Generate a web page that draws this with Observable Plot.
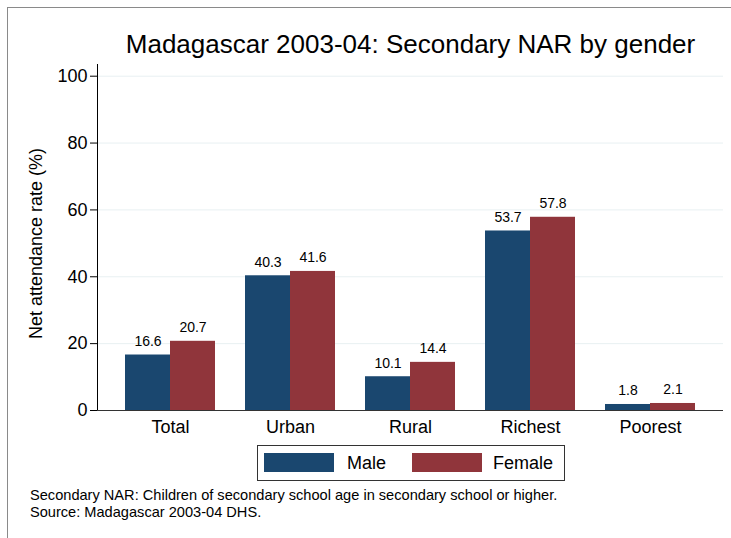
<!DOCTYPE html>
<html>
<head>
<meta charset="utf-8">
<script src="https://cdn.jsdelivr.net/npm/d3@7"></script>
<script src="https://cdn.jsdelivr.net/npm/@observablehq/plot@0.6"></script>
<style>
  html, body { margin: 0; padding: 0; background: #fff; }
  #wrap { position: relative; width: 731px; height: 538px; overflow: hidden; font-family: "Liberation Sans", Arial, sans-serif; }
  #wrap > * { position: absolute; }
  .frame { left: 7px; top: 7px; width: 800px; height: 600px; border-left: 1px solid #8a8a8a; border-top: 1px solid #8a8a8a; }
  .plot { left: 0; top: 0; }
  .legend-box { left: 257px; top: 445px; width: 306px; height: 34px; border: 1px solid #333; }
  .sw { width: 70px; height: 19px; top: 453px; }
  .lt { font-size: 18px; line-height: 18px; top: 454px; color: #000; white-space: nowrap; }
  .cap { left: 30px; top: 487px; font-size: 14.6px; line-height: 16.8px; color: #000; white-space: nowrap; }
</style>
</head>
<body>
<div id="wrap"><div class="frame"></div></div>
<script>
const title = "Madagascar 2003-04: Secondary NAR by gender";
const yLabel = "Net attendance rate (%)";
const categories = ["Total", "Urban", "Rural", "Richest", "Poorest"];
const genders = ["Male", "Female"];
const maleValues = [16.6, 40.3, 10.1, 53.7, 1.8];
const femaleValues = [20.7, 41.6, 14.4, 57.8, 2.1];
const yTicks = [0, 20, 40, 60, 80, 100];
const colors = ["#1a476f", "#90353b"];
const captionLines = [
  "Secondary NAR: Children of secondary school age in secondary school or higher.",
  "Source: Madagascar 2003-04 DHS."
];

const data = categories.flatMap((c, i) => [
  {category: c, gender: genders[0], value: maleValues[i]},
  {category: c, gender: genders[1], value: femaleValues[i]}
]);

const font = "'Liberation Sans', Arial, sans-serif";
const dims = {width: 731, height: 538, marginTop: 64, marginBottom: 128, marginLeft: 97, marginRight: 8};
const fxPad = {paddingInner: 0.25, paddingOuter: 0.233};
const yDomain = [0, 103.5];

const back = Plot.plot({
  ...dims,
  style: {fontFamily: font, background: "transparent", color: "#000"},
  x: {domain: categories, axis: null},
  y: {domain: yDomain, axis: null},
  marks: [
    Plot.ruleY(yTicks.filter(t => t > 0), {stroke: "#e8f0f2", strokeWidth: 1}),
    Plot.axisY(yTicks, {tickSize: 7, tickPadding: 3, fontSize: 18, label: null, stroke: "#000"}),
    Plot.frame({anchor: "left", stroke: "#000"}),
    Plot.text([title], {text: d => d, frameAnchor: "top", lineAnchor: "bottom", dy: -12, fontSize: 26, fill: "#000"}),
    Plot.text([yLabel], {text: d => d, frameAnchor: "left", rotate: -90, textAnchor: "middle", lineAnchor: "middle", dx: -61, dy: 6, fontSize: 18, fill: "#000"})
  ]
});

const front = Plot.plot({
  ...dims,
  style: {fontFamily: font, background: "transparent", color: "#000"},
  facet: {data, x: "category"},
  fx: {domain: categories, ...fxPad, label: null},
  x: {domain: genders, padding: 0, axis: null},
  y: {domain: yDomain, axis: null},
  color: {domain: genders, range: colors},
  marks: [
    Plot.axisFx({anchor: "bottom", tickSize: 0, tickPadding: 10, fontSize: 18, label: null}),
    Plot.barY(data, {x: "gender", y: "value", fill: "gender", inset: 0}),
    Plot.text(data, {x: "gender", y: "value", text: d => d.value.toFixed(1), lineAnchor: "bottom", dy: -9, fontSize: 14, fill: "#000"})
  ]
});

const axisLine = Plot.plot({
  ...dims,
  style: {fontFamily: font, background: "transparent"},
  x: {domain: categories, axis: null},
  y: {domain: yDomain, axis: null},
  marks: [Plot.ruleY([0], {stroke: "#333"})]
});

const wrap = document.getElementById("wrap");
for (const p of [back, front, axisLine]) { p.classList.add("plot"); wrap.appendChild(p); }

// legend built from the same color arrays
const box = document.createElement("div"); box.className = "legend-box"; wrap.appendChild(box);
const swLeft = [264, 412], txtLeft = [347, 493];
genders.forEach((g, i) => {
  const s = document.createElement("div"); s.className = "sw";
  s.style.left = swLeft[i] + "px"; s.style.background = colors[i]; wrap.appendChild(s);
  const t = document.createElement("div"); t.className = "lt";
  t.style.left = txtLeft[i] + "px"; t.textContent = g; wrap.appendChild(t);
});

const cap = document.createElement("div"); cap.className = "cap";
cap.innerHTML = captionLines.map(l => `<div>${l}</div>`).join("");
wrap.appendChild(cap);
</script>
</body>
</html>
